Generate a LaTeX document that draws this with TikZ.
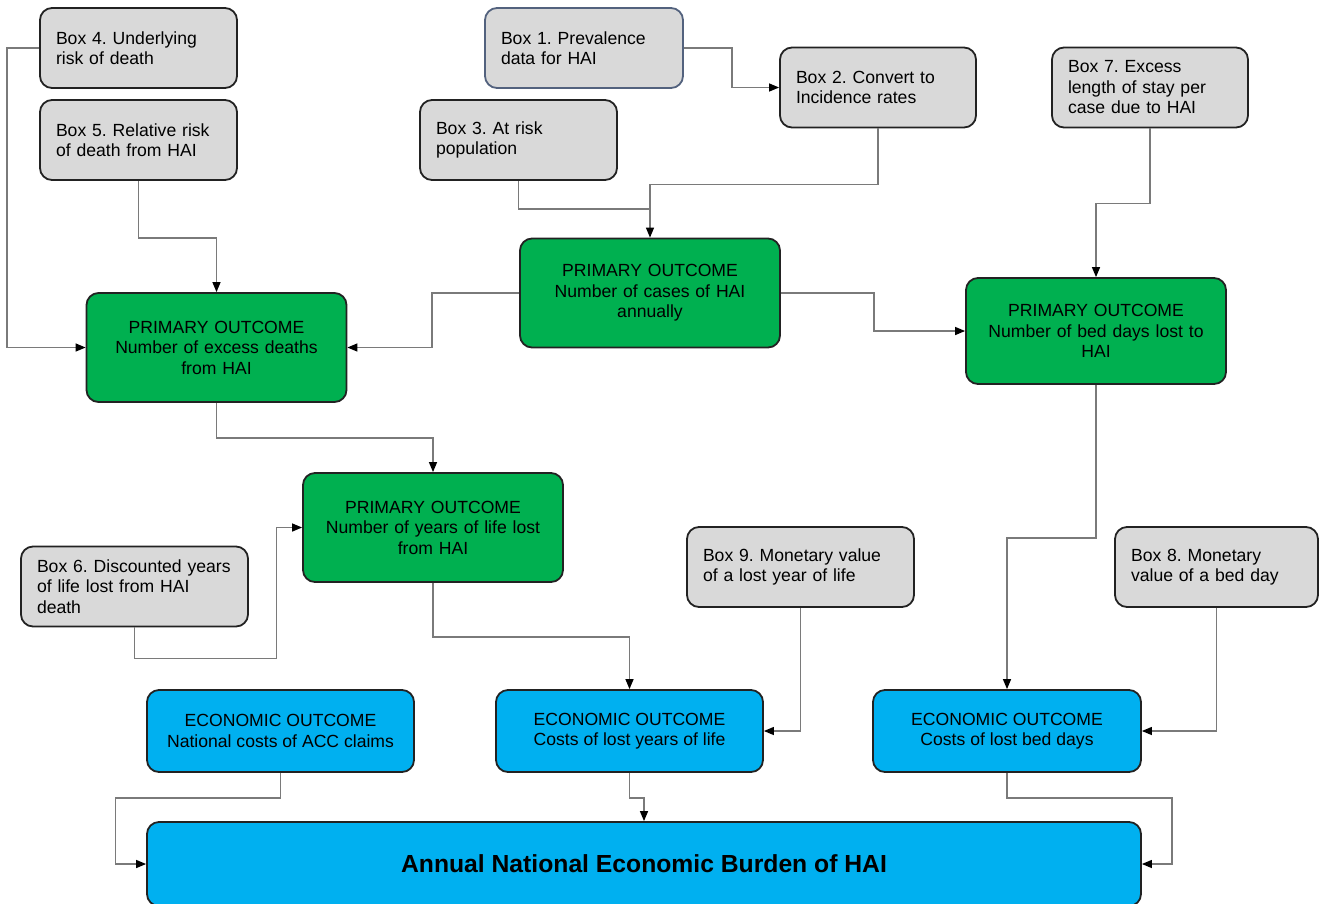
\documentclass[tikz,border=0pt]{standalone}
\usepackage{fontspec}
\setmainfont{Liberation Sans}
\usetikzlibrary{arrows.meta}
\definecolor{boxgrey}{HTML}{D9D9D9}
\definecolor{primgreen}{HTML}{00B050}
\definecolor{econblue}{HTML}{00B0F0}
\definecolor{linegrey}{HTML}{7A7A7A}
\definecolor{edgedark}{HTML}{222222}
\definecolor{edgeslate}{HTML}{53627E}
\frenchspacing
\begin{document}
\begin{tikzpicture}[x=1pt,y=-1pt,
  base/.style = {draw=edgedark, line width=1.8pt, rounded corners=12pt,
    font=\fontsize{17.6}{20.5}\selectfont},
  inputbox/.style = {base, fill=boxgrey, align=left, inner xsep=16pt,
    text width=#1-32pt, minimum width=#1, minimum height=80pt},
  primary/.style = {base, fill=primgreen, align=center, minimum width=260pt,
    minimum height=109pt, text width=240pt, inner xsep=10pt},
  economic/.style = {base, fill=econblue, align=center, minimum width=267pt,
    minimum height=82pt},
  link/.style = {draw=linegrey, line width=1.3pt,
    -{Triangle[length=10pt,width=8pt,color=black]}},
  plain/.style = {draw=linegrey, line width=1.3pt}]
\useasboundingbox (0,0) rectangle (1320,903);
% input boxes
\node[inputbox=197pt] (box4) at (138.5,48) {Box 4. Underlying\\risk of death};
\node[inputbox=197pt] (box5) at (138.5,140) {Box 5. Relative risk\\of death from HAI};
\node[inputbox=198pt, draw=edgeslate] (box1) at (584,48) {Box 1. Prevalence\\data for HAI};
\node[inputbox=197pt] (box3) at (518.5,140) {Box 3. At risk\\population};
\node[inputbox=196pt] (box2) at (878,87.5) {Box 2. Convert to\\Incidence rates};
\node[inputbox=196pt] (box7) at (1150,87.5) {Box 7. Excess\\length of stay per\\case due to HAI};
\node[inputbox=227pt] (box6) at (134.5,586.5) {Box 6. Discounted years\\of life lost from HAI\\death};
\node[inputbox=227pt] (box9) at (800.5,567) {Box 9. Monetary value\\of a lost year of life};
\node[inputbox=203pt] (box8) at (1216.5,567) {Box 8. Monetary\\value of a bed day};
% primary outcomes
\node[primary] (cases) at (650,293) {PRIMARY OUTCOME\\Number of cases of HAI\\annually};
\node[primary] (deaths) at (216.5,347.5) {PRIMARY OUTCOME\\Number of excess deaths\\from HAI};
\node[primary, minimum height=106pt] (bed) at (1096,331) {PRIMARY OUTCOME\\Number of bed days lost to\\HAI};
\node[primary] (years) at (433,527.5) {PRIMARY OUTCOME\\Number of years of life lost\\from HAI};
% economic outcomes
\node[economic] (acc) at (280.5,731) {ECONOMIC OUTCOME\\National costs of ACC claims};
\node[economic] (costyears) at (629.5,731) {ECONOMIC OUTCOME\\Costs of lost years of life};
\node[economic, minimum width=268pt] (costbed) at (1007,731) {ECONOMIC OUTCOME\\Costs of lost bed days};
\node[economic, minimum width=994pt, minimum height=84pt,
  font=\fontsize{24.7}{28}\selectfont\bfseries] (burden) at (644,864) {Annual National Economic Burden of HAI};
% connectors
\coordinate (join) at (650,209);
\draw[link] (box4.west) -- ++(-32,0) |- (deaths.west);
\draw[link] (box5.south) -- ++(0,57) -| (deaths.north);
\draw[link] (box1.east) -- ++(48,0) |- (box2.west);
\draw[link] (box2.south) -- ++(0,56) -| (cases.north);
\draw[plain] (box3.south) |- (join);
\draw[link] (cases.west) -- ++(-87,0) |- (deaths.east);
\draw[link] (cases.east) -- ++(93,0) |- (bed.west);
\draw[link] (box7.south) -- ++(0,75) -| (bed.north);
\draw[link] (deaths.south) -- ++(0,35) -| (years.north);
\draw[link] (box6.south) -- ++(0,31) -- ++(142,0) |- (years.west);
\draw[link] (years.south) -- ++(0,54) -| (costyears.north);
\draw[link] (box9.south) |- (costyears.east);
\draw[link] (bed.south) -- ++(0,153) -| (costbed.north);
\draw[link] (box8.south) |- (costbed.east);
\draw[link] (acc.south) -- ++(0,25) -- ++(-165,0) |- (burden.west);
\draw[link] (costyears.south) -- ++(0,25) -| (burden.north);
\draw[link] (costbed.south) -- ++(0,25) -- ++(165,0) |- (burden.east);
\end{tikzpicture}
\end{document}
